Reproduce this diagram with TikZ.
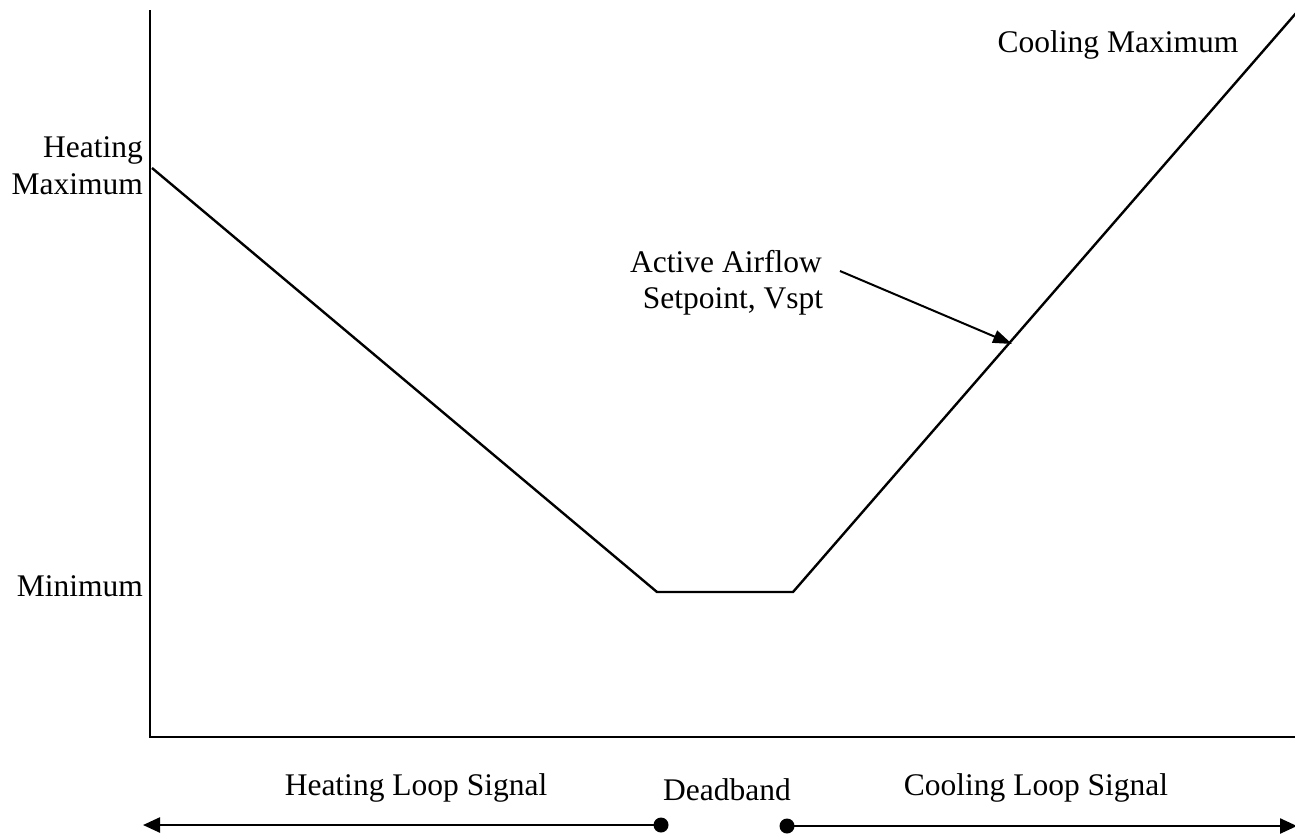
\documentclass[tikz,border=0pt]{standalone}
\usepackage{fontspec}
\setmainfont{Liberation Serif}
\usetikzlibrary{arrows.meta}
\begin{document}
\begin{tikzpicture}[x=1pt,y=-1pt,
  lbl/.style={font=\fontsize{31.5}{35}\selectfont, inner sep=0pt},
  ln/.style={line width=2.4pt, black},
  dotend/.style={circle, fill=black, inner sep=0pt, minimum size=15pt}]
\useasboundingbox (0,0) rectangle (1295,836);
% axes
\coordinate (ytop) at (150,10);
\coordinate (orig) at (150,737);
\coordinate (xend) at (1295,737);
\draw[ln] (ytop) -- (orig) -- (xend);
% curve
\coordinate (p0) at (152,168);
\coordinate (p1) at (657,592);
\coordinate (p2) at (793,592);
\coordinate (p3) at (1297,12);
\draw[ln, line join=miter] (p0) -- (p1) -- (p2) -- (p3);
% labels
\node[lbl, anchor=east, align=right] (hmax) at (143,166) {Heating\\[2pt]Maximum};
\node[lbl, anchor=east] (min) at (143,586) {Minimum};
\node[lbl] (cmax) at (1118,45) {Cooling Maximum};
\node[lbl, align=center] (aas) at (726,283) {Active Airflow\\[1pt]\hspace*{14pt}Setpoint, Vspt};
\coordinate (aastip) at (1012,344);
\draw[ln, line width=2pt, -{Triangle[length=19pt,width=13pt]}] (840,271) -- (aastip);
% bottom
\node[lbl] (hls) at (416,788) {Heating Loop Signal};
\node[lbl] (db) at (727,790) {Deadband};
\node[lbl] (cls) at (1036,788) {Cooling Loop Signal};
\node[dotend] (d1) at (661,825) {};
\node[dotend] (d2) at (787,826) {};
\coordinate (la) at (143,825);
\coordinate (ra) at (1297,826);
\draw[ln, -{Triangle[length=17pt,width=15pt]}] (d1.center) -- (la);
\draw[ln, -{Triangle[length=17pt,width=15pt]}] (d2.center) -- (ra);
\end{tikzpicture}
\end{document}
